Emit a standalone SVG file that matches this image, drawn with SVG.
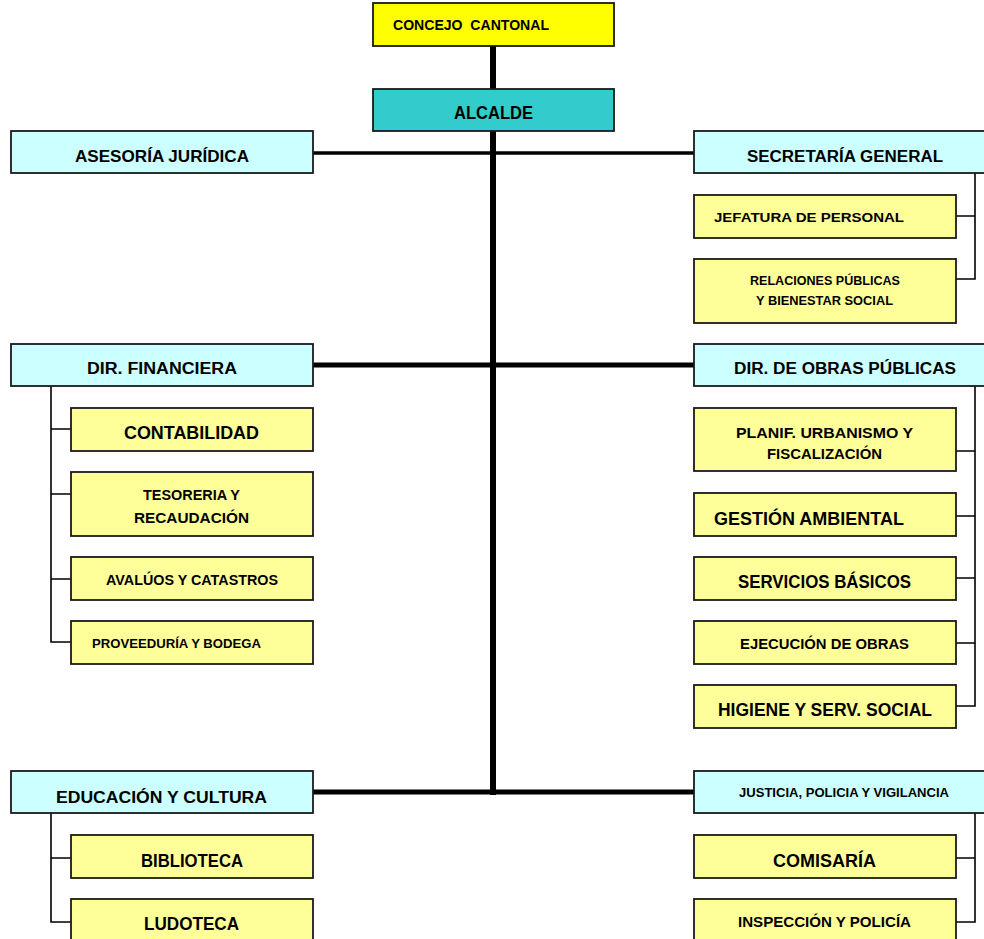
<svg xmlns="http://www.w3.org/2000/svg" width="984" height="939" viewBox="0 0 984 939">
<style>
.b{stroke:#1a1a1a;stroke-width:1.8}
.y{fill:#FFFF00}.t{fill:#33CCCC}.c{fill:#CCFFFF}.p{fill:#FFFF99}
text{font-family:"Liberation Sans",Arial,sans-serif;font-weight:bold;fill:#000}
.thin{stroke:#000;stroke-width:1.6;fill:none}
.thick{stroke:#000;fill:none}
</style>
<rect width="984" height="939" fill="#fff"/>
<g id="connectors">
<line class="thick" x1="493" y1="46" x2="493" y2="89" stroke-width="6"/>
<line class="thick" x1="493" y1="131" x2="493" y2="795" stroke-width="6"/>
<line class="thick" x1="313" y1="153" x2="694" y2="153" stroke-width="3.5"/>
<line class="thick" x1="313" y1="365" x2="694" y2="365" stroke-width="5"/>
<line class="thick" x1="313" y1="792" x2="694" y2="792" stroke-width="5"/>
<path class="thin" d="M975 173V279H956M975 216H956"/>
<path class="thin" d="M51 386V642H71M51 429H71M51 494H71M51 579H71"/>
<path class="thin" d="M975 386V706H956M975 451H956M975 516H956M975 578H956M975 643H956"/>
<path class="thin" d="M51 813V922H71M51 858H71"/>
<path class="thin" d="M975 813V922H956M975 858H956"/>
</g>
<g id="concejo"><rect class="b y" x="373" y="3" width="241" height="43"/><text x="393" y="30" font-size="14" textLength="156" lengthAdjust="spacingAndGlyphs" xml:space="preserve">CONCEJO  CANTONAL</text></g>
<g id="alcalde"><rect class="b t" x="373" y="89" width="241" height="42"/><text x="454" y="119" font-size="17.5" textLength="79" lengthAdjust="spacingAndGlyphs">ALCALDE</text></g>
<g id="asesoria"><rect class="b c" x="11" y="131" width="302" height="42"/><text x="75" y="162" font-size="16.5" textLength="174" lengthAdjust="spacingAndGlyphs">ASESORÍA JURÍDICA</text></g>
<g id="secretaria"><rect class="b c" x="694" y="131" width="295" height="42"/><text x="747" y="162" font-size="16" textLength="196" lengthAdjust="spacingAndGlyphs">SECRETARÍA GENERAL</text></g>
<g id="jefatura"><rect class="b p" x="694" y="195" width="262" height="43"/><text x="714" y="222" font-size="13.5" textLength="190" lengthAdjust="spacingAndGlyphs">JEFATURA DE PERSONAL</text></g>
<g id="relaciones"><rect class="b p" x="694" y="259" width="262" height="64"/><text x="750" y="285" font-size="12.3" textLength="150" lengthAdjust="spacingAndGlyphs">RELACIONES PÚBLICAS</text><text x="756" y="305" font-size="12.3" textLength="137" lengthAdjust="spacingAndGlyphs">Y BIENESTAR SOCIAL</text></g>
<g id="financiera"><rect class="b c" x="11" y="344" width="302" height="42"/><text x="87" y="374" font-size="16" textLength="150" lengthAdjust="spacingAndGlyphs">DIR. FINANCIERA</text></g>
<g id="obras"><rect class="b c" x="694" y="344" width="295" height="42"/><text x="734" y="374" font-size="16" textLength="222" lengthAdjust="spacingAndGlyphs">DIR. DE OBRAS PÚBLICAS</text></g>
<g id="contabilidad"><rect class="b p" x="71" y="408" width="242" height="43"/><text x="124" y="439" font-size="17.5" textLength="135" lengthAdjust="spacingAndGlyphs">CONTABILIDAD</text></g>
<g id="tesoreria"><rect class="b p" x="71" y="472" width="242" height="64"/><text x="143" y="500" font-size="14.5" textLength="97" lengthAdjust="spacingAndGlyphs">TESORERIA Y</text><text x="134" y="523" font-size="14.5" textLength="115" lengthAdjust="spacingAndGlyphs">RECAUDACIÓN</text></g>
<g id="avaluos"><rect class="b p" x="71" y="557" width="242" height="43"/><text x="106" y="585" font-size="14" textLength="172" lengthAdjust="spacingAndGlyphs">AVALÚOS Y CATASTROS</text></g>
<g id="proveeduria"><rect class="b p" x="71" y="621" width="242" height="43"/><text x="92" y="648" font-size="13" textLength="169" lengthAdjust="spacingAndGlyphs">PROVEEDURÍA Y BODEGA</text></g>
<g id="planif"><rect class="b p" x="694" y="408" width="262" height="63"/><text x="736" y="438" font-size="14" textLength="177" lengthAdjust="spacingAndGlyphs">PLANIF. URBANISMO Y</text><text x="767" y="459" font-size="14" textLength="115" lengthAdjust="spacingAndGlyphs">FISCALIZACIÓN</text></g>
<g id="gestion"><rect class="b p" x="694" y="493" width="262" height="43"/><text x="714" y="525" font-size="17.5" textLength="190" lengthAdjust="spacingAndGlyphs">GESTIÓN AMBIENTAL</text></g>
<g id="servicios"><rect class="b p" x="694" y="557" width="262" height="43"/><text x="738" y="588" font-size="17.5" textLength="173" lengthAdjust="spacingAndGlyphs">SERVICIOS BÁSICOS</text></g>
<g id="ejecucion"><rect class="b p" x="694" y="621" width="262" height="43"/><text x="740" y="649" font-size="14" textLength="169" lengthAdjust="spacingAndGlyphs">EJECUCIÓN DE OBRAS</text></g>
<g id="higiene"><rect class="b p" x="694" y="685" width="262" height="43"/><text x="718" y="716" font-size="18" textLength="214" lengthAdjust="spacingAndGlyphs">HIGIENE Y SERV. SOCIAL</text></g>
<g id="educacion"><rect class="b c" x="11" y="771" width="302" height="42"/><text x="56" y="803" font-size="16.5" textLength="211" lengthAdjust="spacingAndGlyphs">EDUCACIÓN Y CULTURA</text></g>
<g id="justicia"><rect class="b c" x="694" y="771" width="295" height="42"/><text x="739" y="797" font-size="13" textLength="210" lengthAdjust="spacingAndGlyphs">JUSTICIA, POLICIA Y VIGILANCIA</text></g>
<g id="biblioteca"><rect class="b p" x="71" y="835" width="242" height="43"/><text x="141" y="867" font-size="17.5" textLength="102" lengthAdjust="spacingAndGlyphs">BIBLIOTECA</text></g>
<g id="ludoteca"><rect class="b p" x="71" y="899" width="242" height="45"/><text x="144" y="930" font-size="17.5" textLength="95" lengthAdjust="spacingAndGlyphs">LUDOTECA</text></g>
<g id="comisaria"><rect class="b p" x="694" y="835" width="262" height="43"/><text x="773" y="867" font-size="17.5" textLength="103" lengthAdjust="spacingAndGlyphs">COMISARÍA</text></g>
<g id="inspeccion"><rect class="b p" x="694" y="899" width="262" height="45"/><text x="738" y="927" font-size="15.5" textLength="173" lengthAdjust="spacingAndGlyphs">INSPECCIÓN Y POLICÍA</text></g>
</svg>
